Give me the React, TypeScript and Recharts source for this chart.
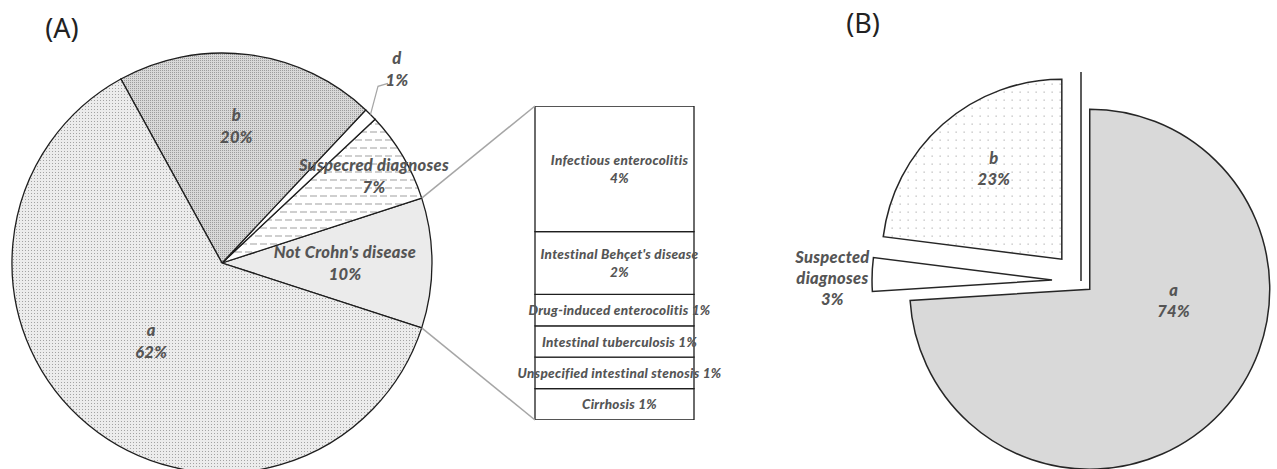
import React from 'react';
import { PieChart, Pie, Cell, BarChart, Bar, XAxis, YAxis } from 'recharts';

// (A) main pie, counter-clockwise starting at the lower edge of "Not Crohn's disease"
const pieANames = ["Not Crohn's disease", 'Suspecred diagnoses', 'd', 'b', 'a'];
const pieAValues = [10, 7, 1, 20, 62];

// (A) breakdown of "Not Crohn's disease", bottom to top
const barNames = [
  'Cirrhosis',
  'Unspecified intestinal stenosis',
  'Intestinal tuberculosis',
  'Drug-induced enterocolitis',
  "Intestinal Behçet's disease",
  'Infectious enterocolitis',
];
const barValues = [1, 1, 1, 1, 2, 4];

// (B) exploded pie, counter-clockwise from 12 o'clock
const pieBNames = ['b', 'Suspected diagnoses', 'a'];
const pieBValues = [23, 3, 74];

const RAD = Math.PI / 180;
const W = 1277;
const H = 469;

// geometry
const A_CX = 222;
const A_CY = 263;
const A_R = 210;
const A_START = -18;
const BAR_LEFT = 535;
const BAR_TOP = 106;
const BAR_W = 159;
const BAR_H = 314;
const B_LEFT = 760;
const B_CX = 321;
const B_CY = 281;
const B_R = 180;
const B_START = 90;
const B_EXPLODE = [29, 29, 12];
const B_ZERO_EXPLODE = 29;

const pieAFills = ['#ebebeb', 'url(#dashes)', '#ffffff', 'url(#dotsDark)', 'url(#dotsLight)'];
const pieBFills = ['url(#dotsSparse)', '#ffffff', '#d9d9d9'];

const labelFont = { fill: '#555555', fontWeight: 900, fontStyle: 'italic', fontFamily: 'Lato, sans-serif', letterSpacing: 0.3 } as const;

const pieAData = pieANames.map((name, i) => ({ name, value: pieAValues[i] }));
const pieBData = pieBNames.map((name, i) => ({ name, value: pieBValues[i] }));
const barRow: Record<string, any> = { name: "Not Crohn's disease" };
barValues.forEach((v, i) => (barRow['s' + i] = v));
const barTotal = barValues.reduce((s, v) => s + v, 0);
const totalA = pieAValues.reduce((s, v) => s + v, 0);
const totalB = pieBValues.reduce((s, v) => s + v, 0);

function textLines(x: number, y: number, texts: string[], size: number, gap: number) {
  const y0 = y - ((texts.length - 1) * gap) / 2;
  return texts.map((t, i) => (
    <text key={i} x={x} y={y0 + i * gap} textAnchor="middle" dominantBaseline="central" fontSize={size} style={{ whiteSpace: 'pre' }} {...labelFont}>
      {t}
    </text>
  ));
}

// label placement: radius factor and angle tweak from the slice middle
const pieALabelPos = [
  { r: 0.586, da: 0 },
  { r: 0.833, da: -0.9 },
  { r: 1.243, da: 2.9 },
  { r: 0.657, da: 1.2 },
  { r: 0.5, da: -2.8 },
];

const renderPieALabel = (p: any) => {
  const { cx, cy, midAngle, outerRadius, index } = p;
  const pos = pieALabelPos[index];
  const ang = (midAngle + pos.da) * RAD;
  const x = cx + outerRadius * pos.r * Math.cos(ang);
  const y = cy - outerRadius * pos.r * Math.sin(ang);
  let leader = null;
  if (pos.r > 1) {
    const ex = cx + outerRadius * Math.cos(midAngle * RAD);
    const ey = cy - outerRadius * Math.sin(midAngle * RAD);
    leader = <polyline points={`${ex},${ey} ${x - 19},${y + 17} ${x - 9},${y + 14}`} fill="none" stroke="#a6a6a6" strokeWidth={1.2} />;
  }
  return (
    <g>
      {leader}
      {textLines(x, y, [pieANames[index], pieAValues[index] + '%'], 16.5, 22)}
    </g>
  );
};

const pieBLabelPos = [
  { r: 0.63, da: -4.6 },
  { r: 1.22, da: 1.3 },
  { r: 0.47, da: 35.7 },
];

const makePieBLabel = (target: number) => (p: any) => {
  const { cx, cy, midAngle, outerRadius, index } = p;
  if (index !== target) return <g />;
  const pos = pieBLabelPos[index];
  const ang = (midAngle + pos.da) * RAD;
  const x = cx + outerRadius * pos.r * Math.cos(ang);
  const y = cy - outerRadius * pos.r * Math.sin(ang);
  return <g>{textLines(x, y, [...pieBNames[index].split(' '), pieBValues[index] + '%'], 16.5, 21)}</g>;
};

const makeBarLabel = (i: number) => (p: any) => {
  const vb = p.viewBox || {};
  const x = p.x ?? vb.x;
  const y = p.y ?? vb.y;
  const w = p.width ?? vb.width;
  const h = p.height ?? vb.height;
  const v = barValues[i];
  const texts = v >= 2 ? [barNames[i], v + '%'] : [barNames[i] + ' ' + v + '%'];
  return <g>{textLines(x + w / 2 + 5, y + h / 2, texts, 13.5, 18)}</g>;
};

// middle angle of each slice in (B), used for the explosion offsets
const midAnglesB = (() => {
  let acc = B_START;
  return pieBValues.map((v) => {
    const a = (v / totalB) * 360;
    const m = acc + a / 2;
    acc += a;
    return m;
  });
})();

export default function App() {
  const notCrohnAngle = (pieAValues[0] / totalA) * 360;
  const upperEdge = (A_START + notCrohnAngle) * RAD;
  const lowerEdge = A_START * RAD;
  const bcx = B_LEFT + B_CX;

  return (
    <div style={{ position: 'absolute', left: 0, top: 0, width: W, height: H, background: '#fff', overflow: 'hidden' }}>
      <svg width={0} height={0} style={{ position: 'absolute' }}>
        <defs>
          <pattern id="dotsLight" width="3" height="3" patternUnits="userSpaceOnUse">
            <rect width="3" height="3" fill="#ececec" />
            <rect x="1" y="1" width="1" height="1" fill="#a3a3a3" />
          </pattern>
          <pattern id="dotsDark" width="2" height="2" patternUnits="userSpaceOnUse">
            <rect width="2" height="2" fill="#d8d8d8" />
            <rect width="1" height="1" fill="#9c9c9c" />
          </pattern>
          <pattern id="dashes" width="10" height="16" patternUnits="userSpaceOnUse">
            <rect width="10" height="16" fill="#fff" />
            <line x1="0" y1="4" x2="7" y2="4" stroke="#a0a0a0" strokeWidth="1" />
            <line x1="5" y1="12" x2="10" y2="12" stroke="#a0a0a0" strokeWidth="1" />
            <line x1="0" y1="12" x2="2" y2="12" stroke="#a0a0a0" strokeWidth="1" />
          </pattern>
          <pattern id="dotsSparse" width="8" height="8" patternUnits="userSpaceOnUse">
            <rect width="8" height="8" fill="#fff" />
            <rect x="3.5" y="3.5" width="1.3" height="1.3" fill="#bdbdbd" />
          </pattern>
        </defs>
      </svg>

      <div style={{ position: 'absolute', left: 0, top: 0 }}>
        <PieChart width={480} height={H} margin={{ top: 0, right: 0, bottom: 0, left: 0 }}>
          <Pie
            data={pieAData}
            dataKey="value"
            nameKey="name"
            cx={A_CX}
            cy={A_CY}
            outerRadius={A_R}
            startAngle={A_START}
            endAngle={A_START + 360}
            label={renderPieALabel}
            labelLine={false}
            isAnimationActive={false}
          >
            {pieAData.map((d, i) => (
              <Cell key={d.name} fill={pieAFills[i]} stroke="#1e1e1e" strokeWidth={1.3} />
            ))}
          </Pie>
        </PieChart>
      </div>

      <div style={{ position: 'absolute', left: BAR_LEFT - 60, top: BAR_TOP }}>
        <BarChart
          width={BAR_W + 120}
          height={BAR_H}
          data={[barRow]}
          margin={{ top: 0, right: 60, bottom: 0, left: 60 }}
          barCategoryGap={0}
        >
          <XAxis dataKey="name" hide />
          <YAxis hide domain={[0, barTotal]} />
          {barValues.map((v, i) => (
            <Bar
              key={i}
              dataKey={'s' + i}
              stackId="nc"
              fill="#ffffff"
              stroke="#1e1e1e"
              strokeWidth={1.3}
              label={makeBarLabel(i)}
              isAnimationActive={false}
            />
          ))}
        </BarChart>
      </div>

      <div style={{ position: 'absolute', left: B_LEFT, top: 0 }}>
        <PieChart width={W - B_LEFT} height={H} margin={{ top: 0, right: 0, bottom: 0, left: 0 }}>
          {pieBData.map((d, j) => (
            <Pie
              key={d.name}
              data={pieBData}
              dataKey="value"
              nameKey="name"
              cx={B_CX + B_EXPLODE[j] * Math.cos(midAnglesB[j] * RAD)}
              cy={B_CY - B_EXPLODE[j] * Math.sin(midAnglesB[j] * RAD)}
              outerRadius={B_R}
              startAngle={B_START}
              endAngle={B_START + 360}
              label={makePieBLabel(j)}
              labelLine={false}
              isAnimationActive={false}
            >
              {pieBData.map((e, i) => (
                <Cell
                  key={e.name}
                  fill={i === j ? pieBFills[i] : 'none'}
                  stroke={i === j ? '#262626' : 'none'}
                  strokeWidth={1.5}
                />
              ))}
            </Pie>
          ))}
        </PieChart>
      </div>

      <svg width={W} height={H} style={{ position: 'absolute', left: 0, top: 0, pointerEvents: 'none' }}>
        <text x={62} y={27} textAnchor="middle" dominantBaseline="central" fontSize={27} fontFamily="'Noto Sans', sans-serif" fill="#222">(A)</text>
        <text x={863} y={22} textAnchor="middle" dominantBaseline="central" fontSize={27} fontFamily="'Noto Sans', sans-serif" fill="#222">(B)</text>
        <line
          x1={A_CX + A_R * Math.cos(upperEdge)}
          y1={A_CY - A_R * Math.sin(upperEdge)}
          x2={BAR_LEFT}
          y2={BAR_TOP}
          stroke="#a6a6a6"
          strokeWidth={1.5}
        />
        <line
          x1={A_CX + A_R * Math.cos(lowerEdge)}
          y1={A_CY - A_R * Math.sin(lowerEdge)}
          x2={BAR_LEFT}
          y2={BAR_TOP + BAR_H}
          stroke="#a6a6a6"
          strokeWidth={1.5}
        />
        {/* zero-valued slices of (B) collapse to a line at 12 o'clock */}
        <line x1={bcx} y1={B_CY} x2={bcx} y2={B_CY - B_R - B_ZERO_EXPLODE} stroke="#262626" strokeWidth={1.5} />
      </svg>
    </div>
  );
}
